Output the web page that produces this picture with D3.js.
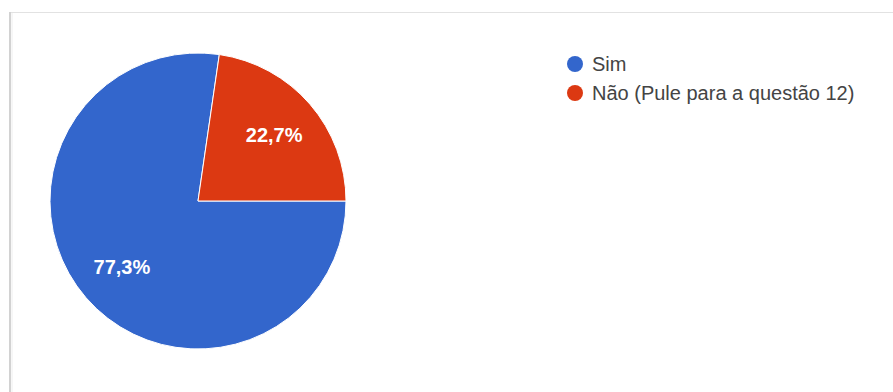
<!DOCTYPE html>
<html>
<head>
<meta charset="utf-8">
<script src="https://cdn.jsdelivr.net/npm/d3@7"></script>
<style>
  html, body { margin: 0; padding: 0; background: #ffffff; }
  svg { display: block; }
</style>
</head>
<body>
<div id="chart"></div>
<script>
// Survey answers and their shares (percent)
const categories = ["Sim", "Não (Pule para a questão 12)"];
const values = [77.3, 22.7];
const valueLabels = ["77,3%", "22,7%"];
const colors = ["#3366cc", "#dc3912"];

const width = 893, height = 392;
const svg = d3.select("#chart").append("svg")
  .attr("width", width).attr("height", height);

// Card frame: shaded left edge and thin top rule
svg.append("rect").attr("x", 0).attr("y", 0).attr("width", width).attr("height", height).attr("fill", "#ffffff");
svg.append("line").attr("x1", 9).attr("x2", width).attr("y1", 12.5).attr("y2", 12.5)
  .attr("stroke", "#e2e2e2").attr("stroke-width", 1);
svg.append("line").attr("x1", 10).attr("x2", 10).attr("y1", 12).attr("y2", height)
  .attr("stroke", "#d2d2d2").attr("stroke-width", 2);
svg.append("line").attr("x1", 12).attr("x2", 12).attr("y1", 13).attr("y2", height)
  .attr("stroke", "#eeeeee").attr("stroke-width", 1);

// Pie
const cx = 198, cy = 201, radius = 148;
const pie = d3.pie().sort(null).value(d => d)
  .startAngle(Math.PI / 2).endAngle(Math.PI / 2 + 2 * Math.PI);
const arcs = pie(values);
const arc = d3.arc().innerRadius(0).outerRadius(radius);
const labelArc = d3.arc().innerRadius(radius * 0.68).outerRadius(radius * 0.68);

const g = svg.append("g").attr("transform", `translate(${cx},${cy})`);
g.selectAll("path.slice").data(arcs).join("path")
  .attr("class", "slice")
  .attr("d", arc)
  .attr("fill", (d, i) => colors[i])
  .attr("stroke", "#ffffff")
  .attr("stroke-width", 1);

g.selectAll("text.pct").data(arcs).join("text")
  .attr("class", "pct")
  .attr("transform", d => `translate(${labelArc.centroid(d)})`)
  .attr("text-anchor", "middle")
  .attr("dy", "0.35em")
  .attr("fill", "#ffffff")
  .attr("font-family", "Arial, 'Liberation Sans', sans-serif")
  .attr("font-size", 20)
  .attr("font-weight", "bold")
  .text((d, i) => valueLabels[i]);

// Legend
const legend = svg.append("g").attr("transform", "translate(575,64)");
const rows = legend.selectAll("g.item").data(categories).join("g")
  .attr("class", "item")
  .attr("transform", (d, i) => `translate(0,${i * 29})`);
rows.append("circle").attr("r", 8).attr("fill", (d, i) => colors[i]);
rows.append("text")
  .attr("x", 17).attr("dy", "0.35em")
  .attr("fill", "#444444")
  .attr("font-family", "Arial, 'Liberation Sans', sans-serif")
  .attr("font-size", 20)
  .text(d => d);
</script>
</body>
</html>
